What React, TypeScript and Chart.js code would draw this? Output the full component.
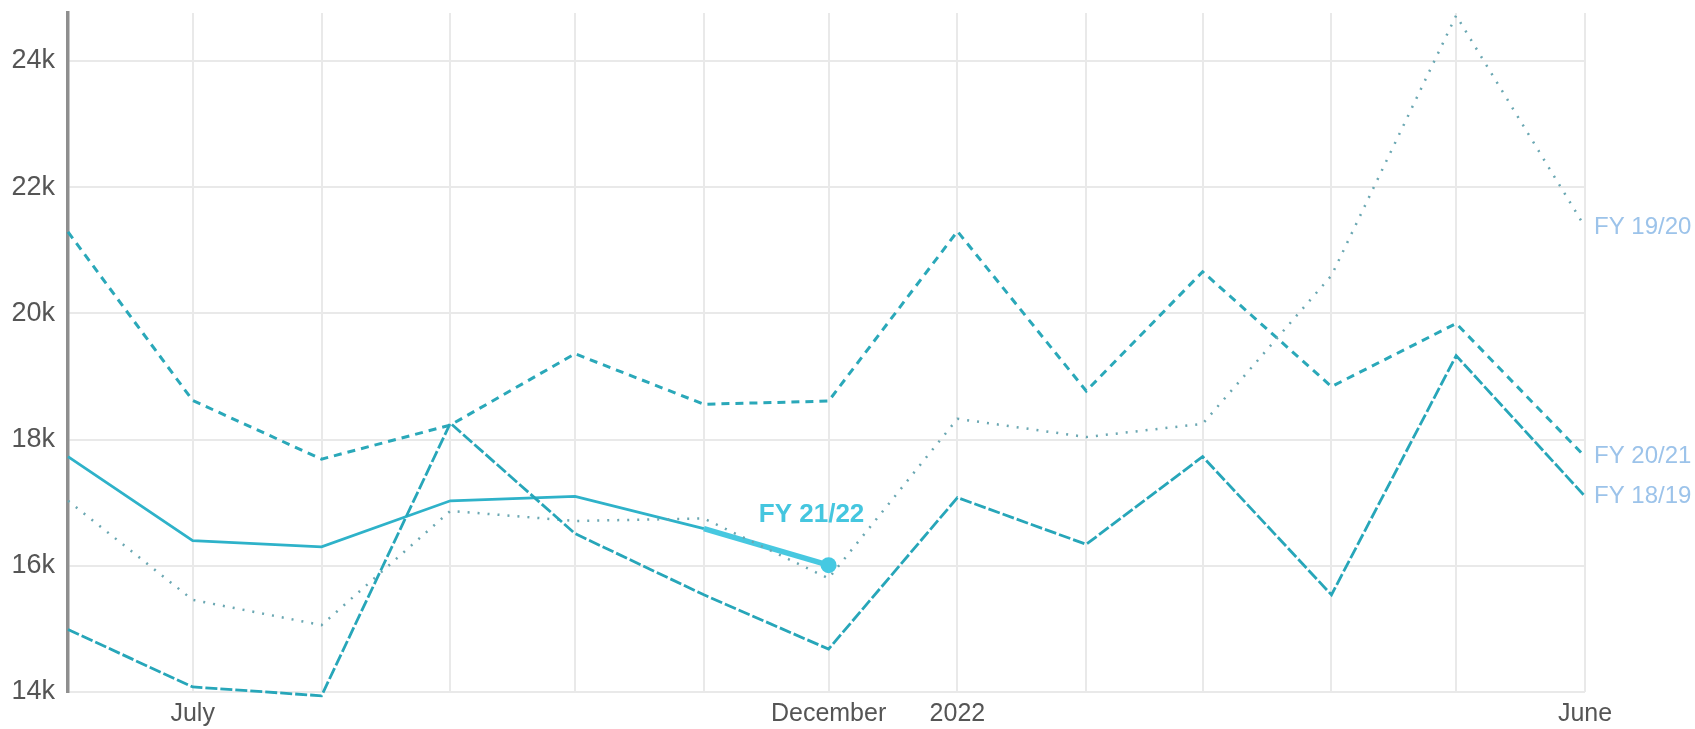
import { useEffect, useRef } from "react";
import { Chart, registerables } from "chart.js";

Chart.register(...registerables);

// ---- data ----
const months = [
  "2021-06-01", "2021-07-01", "2021-08-01", "2021-09-01", "2021-10-01", "2021-11-01", "2021-12-01",
  "2022-01-01", "2022-02-01", "2022-03-01", "2022-04-01", "2022-05-01", "2022-06-01",
];
const monthTickLabels = ["", "July", "", "", "", "", "December", "2022", "", "", "", "", "June"];
const yTickValues = [14000, 16000, 18000, 20000, 22000, 24000];

const fy1819 = [14990, 14080, 13940, 18260, 16510, 15540, 14680, 17080, 16340, 17730, 15540, 19330, 17100];
const fy1920 = [17030, 15460, 15060, 16870, 16710, 16750, 15800, 18330, 18040, 18250, 20600, 24720, 21370];
const fy2021 = [21290, 18620, 17690, 18230, 19360, 18560, 18610, 21300, 18770, 20660, 18840, 19840, 17730];
const fy2122 = [17730, 16400, 16300, 17030, 17100, 16590, 16010];

const seriesLabels = ["FY 18/19", "FY 19/20", "FY 20/21", "FY 21/22"];

const FONT = "'Liberation Sans', Arial, Helvetica, sans-serif";

const dayOf = (s: string) => (Date.parse(s) - Date.parse(months[0])) / 86400000;
const xs = months.map(dayOf);
const toPoints = (vals: number[]) => vals.map((v, i) => ({ x: xs[i], y: v }));

const endLabelsPlugin = {
  id: "endLabels",
  afterDatasetsDraw(chart: any) {
    const { ctx, chartArea } = chart;
    const yScale = chart.scales.y;
    ctx.save();
    ctx.font = `24px ${FONT}`;
    ctx.fillStyle = "#9cc3ea";
    ctx.textAlign = "left";
    ctx.textBaseline = "middle";
    [0, 1, 2].forEach((i) => {
      const ds = chart.data.datasets[i];
      const last = ds.data[ds.data.length - 1];
      ctx.fillText(ds.label, chartArea.right + 9, yScale.getPixelForValue(last.y));
    });
    const meta = chart.getDatasetMeta(3);
    const pt = meta.data[meta.data.length - 1];
    ctx.font = `bold 26px ${FONT}`;
    ctx.fillStyle = "#45c6df";
    ctx.textAlign = "center";
    ctx.fillText(chart.data.datasets[3].label, pt.x - 17, pt.y - 50);
    ctx.restore();
  },
};

export default function App() {
  const canvasRef = useRef<HTMLCanvasElement | null>(null);

  useEffect(() => {
    if (!canvasRef.current) return;
    const lastIdx = fy2122.length - 1;
    const chart = new Chart(canvasRef.current, {
      type: "line",
      data: {
        datasets: [
          {
            label: seriesLabels[0],
            data: toPoints(fy1819),
            borderColor: "#27a6b9",
            borderWidth: 2.8,
            borderDash: [12, 3],
            pointRadius: 0,
            tension: 0,
            clip: false,
          },
          {
            label: seriesLabels[1],
            data: toPoints(fy1920),
            borderColor: "#6aa7b2",
            borderWidth: 2.5,
            borderDash: [2, 8],
            pointRadius: 0,
            tension: 0,
            clip: false,
          },
          {
            label: seriesLabels[2],
            data: toPoints(fy2021),
            borderColor: "#2aa8b9",
            borderWidth: 3,
            borderDash: [8, 6],
            pointRadius: 0,
            tension: 0,
            clip: false,
          },
          {
            label: seriesLabels[3],
            data: toPoints(fy2122),
            borderColor: "#2eb2c9",
            borderWidth: 2.8,
            pointRadius: fy2122.map((_, i) => (i === lastIdx ? 8 : 0)),
            pointBackgroundColor: "#45c9e2",
            pointBorderWidth: 0,
            tension: 0,
            clip: false,
            segment: {
              borderWidth: (c: any) => (c.p1DataIndex === lastIdx ? 5.5 : 2.8),
              borderColor: (c: any) => (c.p1DataIndex === lastIdx ? "#47c8e0" : "#2eb2c9"),
            },
          } as any,
        ],
      },
      options: {
        animation: false,
        responsive: true,
        maintainAspectRatio: false,
        layout: { padding: { top: 13, right: 110, left: 0, bottom: 0 } },
        plugins: { legend: { display: false }, tooltip: { enabled: false } },
        scales: {
          x: {
            type: "linear",
            min: xs[0],
            max: xs[xs.length - 1],
            afterBuildTicks: (scale: any) => {
              scale.ticks = xs.map((v) => ({ value: v }));
            },
            afterFit: (scale: any) => {
              scale.height = 37;
              scale.paddingLeft = 0;
              scale.paddingRight = 0;
            },
            ticks: {
              autoSkip: false,
              maxRotation: 0,
              minRotation: 0,
              padding: 7,
              color: "#555",
              font: { family: FONT, size: 25 },
              callback: (_v: any, index: number) => monthTickLabels[index],
            },
            grid: { color: "#e9e9e9", lineWidth: 2, drawTicks: false },
            border: { display: false },
          },
          y: {
            min: 14000,
            max: 24760,
            afterBuildTicks: (scale: any) => {
              scale.ticks = yTickValues.map((v) => ({ value: v }));
            },
            afterFit: (scale: any) => {
              scale.width = 68;
              scale.paddingTop = 0;
              scale.paddingBottom = 0;
            },
            ticks: {
              padding: 13,
              color: "#555",
              font: { family: FONT, size: 27 },
              callback: (v: any) => `${Number(v) / 1000}k`,
            },
            grid: { color: "#e9e9e9", lineWidth: 2, drawTicks: false },
            border: { display: true, color: "#8f8f8f", width: 3.5 },
          },
        },
      },
      plugins: [endLabelsPlugin],
    } as any);
    return () => chart.destroy();
  }, []);

  return (
    <div style={{ position: "absolute", left: 0, top: 0, width: 1695, height: 729, background: "#fff" }}>
      <canvas ref={canvasRef} />
    </div>
  );
}
